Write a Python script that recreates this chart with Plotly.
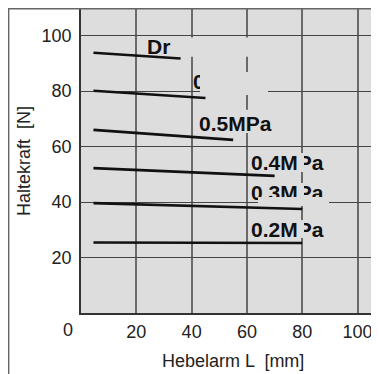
import plotly.graph_objects as go

# ---- data ----
series = ["Dry", "0.6MPa", "0.5MPa", "0.4MPa", "0.3MPa", "0.2MPa"]
lever_start = [4.5, 4.5, 4.5, 4.5, 4.5, 4.5]
lever_end = [36, 45, 55, 70, 80, 80]
force_start = [93.8, 80.1, 66.0, 52.2, 39.6, 25.4]
force_end = [91.7, 77.5, 62.4, 49.4, 37.5, 25.2]

x_ticks = [20, 40, 60, 80, 100]
y_ticks = [20, 40, 60, 80, 100]
x_title = "Hebelarm L  [mm]"
y_title = "Haltekraft  [N]"

BG = "#dddddd"
FONT = "Liberation Sans, Arial, sans-serif"

fig = go.Figure()
for name, xs, xe, ys, ye in zip(series, lever_start, lever_end, force_start, force_end):
    fig.add_trace(go.Scatter(x=[xs, xe], y=[ys, ye], mode="lines", name=name,
                             line=dict(color="#111111", width=2.6), showlegend=False,
                             hoverinfo="skip"))

# gridline-hiding boxes (label backgrounds, above grid, below traces)
for x0, x1, y0, y1 in [(22.0, 62.9, 92.3, 99.3), (42.7, 75.6, 64.9, 73.2)]:
    fig.add_shape(type="rect", xref="x", yref="y", x0=x0, x1=x1, y0=y0, y1=y1,
                  fillcolor=BG, line=dict(width=0), layer="between")

annotations = []
# pressure labels
label_pos = [("Dr", 23.2, 96.0), ("0.6MPa", 39.6, 83.3), ("0.5MPa", 41.9, 68.4),
             ("0.4MPa", 60.7, 54.1), ("0.3MPa", 60.7, 43.5), ("0.2MPa", 60.7, 30.1)]
for txt, lx, ly in label_pos:
    annotations.append(dict(text=f"<b>{txt}</b>", x=lx, y=ly, xref="x", yref="y",
                            xanchor="left", yanchor="middle", showarrow=False,
                            font=dict(family=FONT, size=21, color="#111111")))

# covering patches (hide parts of labels and gridlines as in the scan)
covers = [(43.0, 86.9, 68, 23),   # over 0.6MPa
          (78.1, 57.7, 7, 19),    # P of 0.4MPa
          (78.1, 47.0, 7, 14),    # P of 0.3MPa
          (64.0, 41.9, 71, 9),    # lower half of 0.3MPa + 40 gridline
          (78.1, 33.6, 7, 18)]    # P of 0.2MPa
for cx, cy, w, h in covers:
    annotations.append(dict(text=" ", x=cx, y=cy, xref="x", yref="y",
                            xanchor="left", yanchor="top", showarrow=False,
                            width=w, height=h, bgcolor=BG, borderpad=0, borderwidth=0,
                            font=dict(size=2)))

# "0" corner tick label
annotations.append(dict(text="0", x=(68 - 81) / 298, y=(313 - 330) / 305, xref="paper", yref="paper",
                        xanchor="center", yanchor="middle", showarrow=False,
                        font=dict(family=FONT, size=18, color="#222222")))
# axis titles
annotations.append(dict(text=x_title, x=(233 - 81) / 298, y=(313 - 361) / 305, xref="paper", yref="paper",
                        xanchor="center", yanchor="middle", showarrow=False,
                        font=dict(family=FONT, size=18, color="#222222")))
annotations.append(dict(text=y_title, x=(24 - 81) / 298, y=0.498, xref="paper", yref="paper",
                        xanchor="center", yanchor="middle", showarrow=False, textangle=-90,
                        font=dict(family=FONT, size=18, color="#222222")))

# outer frame (left and top)
fx = (8.6 - 81) / 298
fig.add_shape(type="line", xref="paper", yref="paper", x0=fx, x1=fx,
              y0=1.0, y1=-0.25, line=dict(color="#666666", width=1.6), layer="above")
fig.add_shape(type="line", xref="paper", yref="paper", x0=fx, x1=1.0,
              y0=1 - 0.6 / 305, y1=1 - 0.6 / 305, line=dict(color="#666666", width=1.6), layer="above")

fig.update_layout(
    width=371, height=366,
    margin=dict(l=73, r=0, t=0, b=61, pad=0),
    paper_bgcolor="white", plot_bgcolor=BG,
    annotations=annotations,
    font=dict(family=FONT, size=18, color="#222222"),
)
fig.update_xaxes(range=[0, 298 / 2.766], tickvals=x_ticks, ticks="outside", ticklen=2,
                 tickcolor="rgba(0,0,0,0)", showgrid=True, gridcolor="#6a6a6a", gridwidth=1.8,
                 showline=True, linecolor="#333333", linewidth=1.5, zeroline=False,
                 tickfont=dict(family=FONT, size=18, color="#222222"), fixedrange=True)
fig.update_yaxes(range=[0, 305 / 2.775], tickvals=y_ticks, ticks="outside", ticklen=4,
                 tickcolor="rgba(0,0,0,0)", showgrid=True, gridcolor="#444444", gridwidth=1.3,
                 showline=True, linecolor="#333333", linewidth=1.5, zeroline=False,
                 tickfont=dict(family=FONT, size=18, color="#222222"), fixedrange=True)

fig.write_html("out.html")
